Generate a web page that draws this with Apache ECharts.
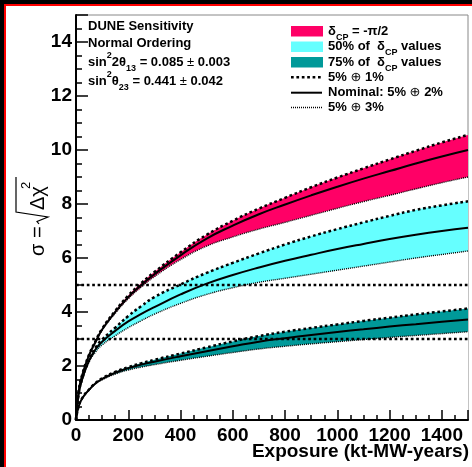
<!DOCTYPE html>
<html><head><meta charset="utf-8">
<script src="https://cdn.jsdelivr.net/npm/echarts@6/dist/echarts.min.js"></script>
<style>html,body{margin:0;padding:0;background:#fff;overflow:hidden}#c{width:472px;height:467px}</style>
</head><body><div id="c"></div><script>
// ---- data ----
const exposure = [0,10,25,50,75,100,150,200,250,300,400,500,600,700,800,900,1000,1100,1200,1300,1400,1500];
// delta_CP = -pi/2
const halfPiNominal = [0,1.05,1.70,2.40,2.90,3.35,4.00,4.55,5.00,5.40,6.10,6.72,7.20,7.62,7.98,8.32,8.64,8.94,9.22,9.50,9.76,10.00];
const halfPiUpper   = [0,1.06,1.72,2.42,2.93,3.38,4.04,4.61,5.07,5.48,6.21,6.86,7.38,7.83,8.23,8.62,8.98,9.32,9.65,9.97,10.28,10.56];
const halfPiLower   = [0,1.04,1.68,2.38,2.87,3.32,3.95,4.49,4.93,5.31,5.94,6.44,6.78,7.07,7.32,7.58,7.84,8.09,8.32,8.56,8.79,9.00];
// 50% of delta_CP values
const frac50Nominal = [0,0.95,1.55,2.20,2.62,2.90,3.30,3.65,3.93,4.18,4.65,5.05,5.37,5.65,5.90,6.12,6.33,6.52,6.70,6.86,7.00,7.12];
const frac50Upper   = [0,0.96,1.57,2.24,2.68,2.98,3.42,3.85,4.22,4.55,5.02,5.45,5.82,6.17,6.50,6.80,7.07,7.32,7.56,7.78,7.95,8.10];
const frac50Lower   = [0,0.93,1.52,2.14,2.52,2.78,3.12,3.42,3.68,3.92,4.32,4.65,4.90,5.10,5.25,5.40,5.55,5.70,5.85,6.00,6.13,6.26];
// 75% of delta_CP values
const frac75Nominal = [0,0.50,0.82,1.12,1.36,1.52,1.75,1.92,2.05,2.16,2.36,2.55,2.73,2.90,3.03,3.15,3.26,3.36,3.46,3.55,3.64,3.72];
const frac75Upper   = [0,0.50,0.83,1.13,1.37,1.54,1.78,1.96,2.10,2.23,2.46,2.69,2.91,3.11,3.27,3.41,3.54,3.67,3.79,3.91,4.02,4.13];
const frac75Lower   = [0,0.50,0.81,1.11,1.34,1.49,1.70,1.85,1.96,2.05,2.21,2.36,2.50,2.63,2.73,2.82,2.90,2.98,3.06,3.13,3.20,3.27];
// reference significance levels
const sigmaLevels = [3, 5];
const xRange = [0, 1500];

// ---- styles ----
const FONT = 'Liberation Sans, Arial, Helvetica, DejaVu Sans, sans-serif';
const PINK = '#ff0066', CYAN = '#66ffff', TEAL = '#009999';
const dashStyle = {color:'#000', width:2.5, type:[2.7,2.7]};
const dotStyle  = {color:'#000', width:1.4, type:[1,1]};
const solidStyle= {color:'#000', width:2};

const pts = arr => exposure.map((x,i)=>[x, arr[i]]);
const base = {type:'line', symbol:'none', smooth:0.5, silent:true, animation:false, clip:true};

const series = [];
function bandFill(upper, lower, color){
  series.push(Object.assign({}, base, {data:pts(upper), lineStyle:{width:0, opacity:0}, areaStyle:{color:color, opacity:1}, z:1}));
  series.push(Object.assign({}, base, {data:pts(lower), lineStyle:{width:0, opacity:0}, areaStyle:{color:'#ffffff', opacity:1}, z:1}));
}
bandFill(halfPiUpper, halfPiLower, PINK);
bandFill(frac50Upper, frac50Lower, CYAN);
bandFill(frac75Upper, frac75Lower, TEAL);
[[halfPiUpper,halfPiLower,halfPiNominal],[frac50Upper,frac50Lower,frac50Nominal],[frac75Upper,frac75Lower,frac75Nominal]].forEach(([u,l,n])=>{
  series.push(Object.assign({}, base, {data:pts(u), lineStyle:dashStyle, z:3}));
  series.push(Object.assign({}, base, {data:pts(l), lineStyle:dotStyle, z:3}));
  series.push(Object.assign({}, base, {data:pts(n), lineStyle:solidStyle, z:4}));
});
sigmaLevels.forEach(s=>{
  series.push(Object.assign({}, base, {smooth:false, data:[[xRange[0],s],[xRange[1],s]], lineStyle:dashStyle, z:5}));
});

// ---- texts ----
const rich = {
  b:{fontFamily:FONT, fontSize:13, fontWeight:'bold', lineHeight:22, verticalAlign:'middle', fill:'#000'},
  r:{fontFamily:FONT, fontSize:13, fontWeight:'normal', lineHeight:22, verticalAlign:'middle', fill:'#000'},
  p:{fontFamily:FONT, fontSize:9, fontWeight:'bold', lineHeight:14, verticalAlign:'top', fill:'#000'},
  s:{fontFamily:FONT, fontSize:9, fontWeight:'bold', lineHeight:14, verticalAlign:'bottom', fill:'#000'}
};
function txt(x, y, text){
  return {type:'text', x:x, y:y, z:20, style:{text:text, rich:rich, verticalAlign:'middle', align:'left', fill:'#000', font:'bold 13px '+FONT}};
}
const infoLines = [
  '{b|DUNE Sensitivity}',
  '{b|Normal Ordering}',
  '{b|sin}{p|2}{b|2θ}{s|13}{b| = 0.085 }{r|±}{b| 0.003}',
  '{b|sin}{p|2}{b|θ}{s|23}{b| = 0.441 }{r|±}{b| 0.042}'
];
const infoY = [26.5, 43, 62, 81];
const legendLabels = [
  '{b|δ}{s|CP}{b| = -π/2}',
  '{b|50% of  δ}{s|CP}{b| values}',
  '{b|75% of  δ}{s|CP}{b| values}',
  '{b|5% }{r|⊕}{b| 1%}',
  '{b|Nominal: 5% }{r|⊕}{b| 2%}',
  '{b|5% }{r|⊕}{b| 3%}'
];
const legendY = [31, 46.5, 62, 77.3, 92.7, 107.5];

const graphic = [];
// frame (top and left only)
graphic.push({type:'rect', shape:{x:0,y:0,width:472,height:4}, style:{fill:'#000'}, z:30});
graphic.push({type:'rect', shape:{x:0,y:0,width:4,height:467}, style:{fill:'#000'}, z:30});
graphic.push({type:'rect', shape:{x:4,y:4,width:468,height:2}, style:{fill:'#ff0000'}, z:30});
graphic.push({type:'rect', shape:{x:4,y:4,width:2,height:463}, style:{fill:'#ff0000'}, z:30});
infoLines.forEach((t,i)=>graphic.push(txt(88, infoY[i], t)));
legendLabels.forEach((t,i)=>graphic.push(txt(328, legendY[i], t)));
[PINK, CYAN, TEAL].forEach((c,i)=>graphic.push({type:'rect', z:20, shape:{x:291, y:legendY[i]-5, width:32, height:10.5}, style:{fill:c}}));
[dashStyle, solidStyle, dotStyle].forEach((st,i)=>graphic.push({type:'line', z:20,
  shape:{x1:291, y1:legendY[i+3], x2:322, y2:legendY[i+3]},
  style:{stroke:'#000', lineWidth:st.width, lineDash:Array.isArray(st.type)?st.type:null}}));
// x axis title
graphic.push({type:'text', x:469, y:452, z:20, style:{text:'Exposure (kt-MW-years)', font:'bold 19px '+FONT, fill:'#000', align:'right', verticalAlign:'middle'}});
// y axis title: sigma = sqrt(Delta chi^2)
graphic.push({type:'group', x:45, y:216, rotation:Math.PI/2, z:20, children:[
  {type:'text', x:-40, y:-7, style:{text:'σ =', font:'20px '+FONT, fill:'#000', align:'left', verticalAlign:'middle'}},
  {type:'polyline', shape:{points:[[-8,-6],[-5.5,-8],[-1,3],[4,-29],[39,-29]]}, style:{stroke:'#000', fill:null, lineWidth:1.2}},
  {type:'text', x:6, y:-7, style:{text:'Δχ', font:'20px '+FONT, fill:'#000', align:'left', verticalAlign:'middle'}},
  {type:'text', x:27, y:-19, style:{text:'2', font:'13px '+FONT, fill:'#000', align:'left', verticalAlign:'middle'}}
]});

const axisLabelStyle = {color:'#000', fontFamily:FONT, fontWeight:'bold', fontSize:19, formatter:v=>String(v)};
const option = {
  animation:false,
  backgroundColor:'#fff',
  grid:{left:76, top:15, right:4, bottom:47, show:true, borderColor:'#888', borderWidth:1, backgroundColor:'#fff'},
  xAxis:{type:'value', min:xRange[0], max:xRange[1], interval:200, z:10,
    axisLine:{show:true, lineStyle:{color:'#000', width:2}},
    axisTick:{show:true, inside:true, length:10, lineStyle:{color:'#000', width:1.5}},
    minorTick:{show:true, splitNumber:4, length:5, lineStyle:{color:'#000', width:1.5}},
    splitLine:{show:false},
    axisLabel:Object.assign({margin:6, showMaxLabel:false}, axisLabelStyle)},
  yAxis:{type:'value', min:0, max:15, interval:2, z:10,
    axisLine:{show:true, lineStyle:{color:'#000', width:2}},
    axisTick:{show:true, inside:true, length:12, lineStyle:{color:'#000', width:1.5}},
    minorTick:{show:true, splitNumber:4, length:6, lineStyle:{color:'#000', width:1.5}},
    splitLine:{show:false},
    axisLabel:Object.assign({margin:4, showMaxLabel:false}, axisLabelStyle)},
  series:series,
  graphic:graphic
};
const chart = echarts.init(document.getElementById('c'), null, {renderer:'canvas'});
chart.setOption(option);
</script></body></html>
